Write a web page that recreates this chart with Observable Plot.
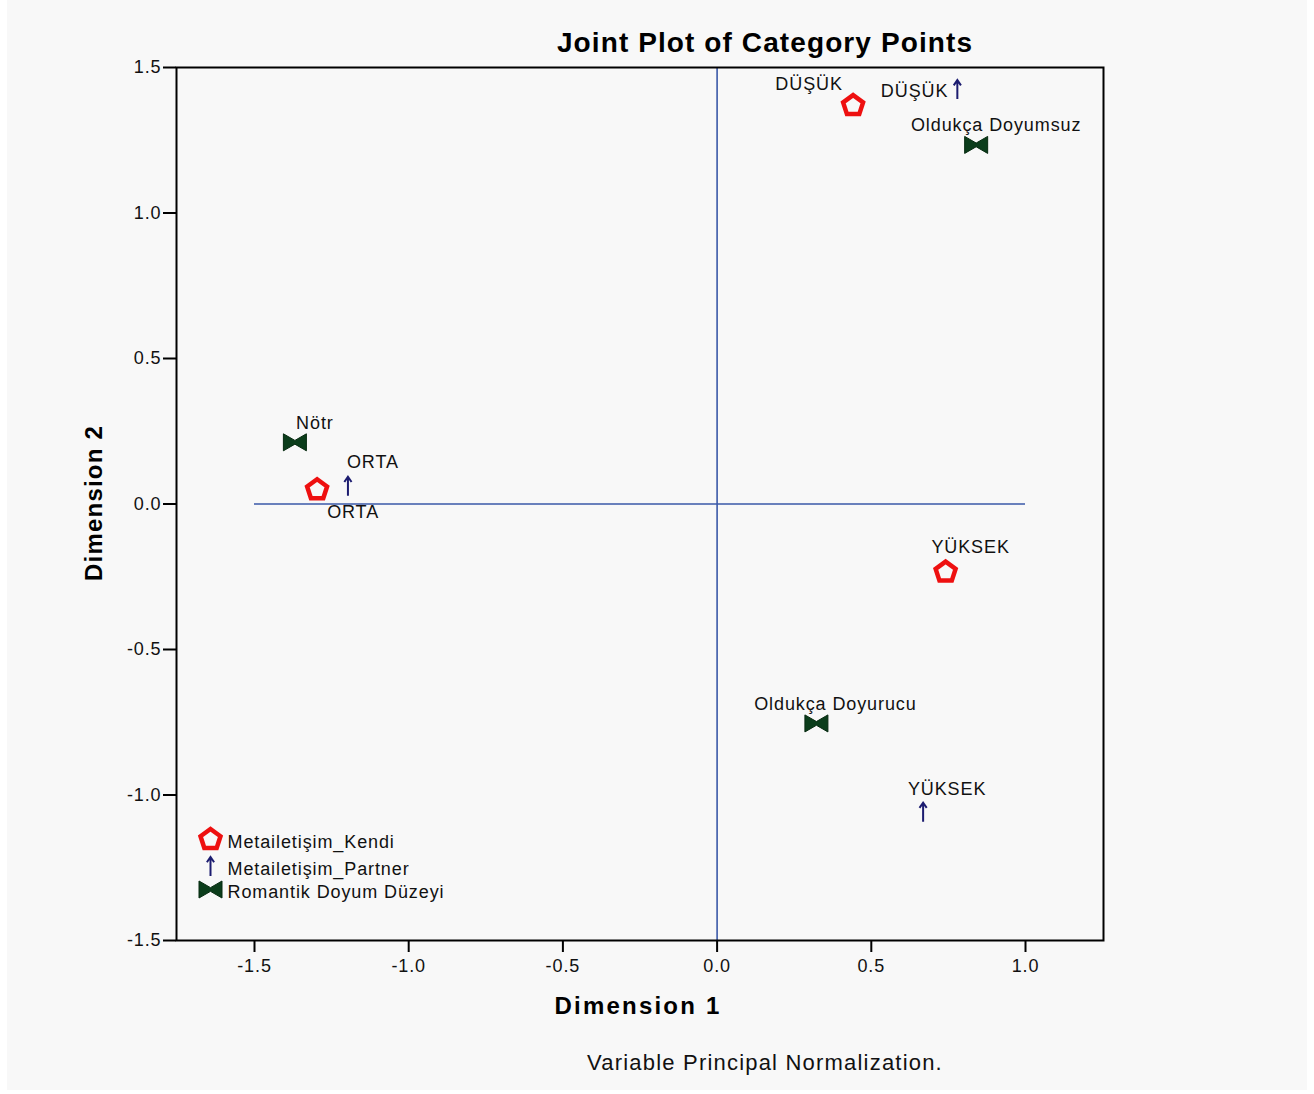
<!DOCTYPE html>
<html>
<head>
<meta charset="utf-8">
<script src="https://cdn.jsdelivr.net/npm/d3@7"></script>
<script src="https://cdn.jsdelivr.net/npm/@observablehq/plot@0.6"></script>
<style>
  html, body { margin: 0; padding: 0; background: #ffffff; }
  #wrap { position: relative; width: 1314px; height: 1094px; overflow: hidden; font-family: "Liberation Sans", Arial, sans-serif; }
  #panel { position: absolute; left: 7px; top: 0; width: 1300px; height: 1090px; background: #f8f8f8; }
  #chart { position: absolute; left: 0; top: 0; }
  #title { position: absolute; left: 465px; width: 600px; top: 27px; text-align: center; font-weight: bold; font-size: 28px; letter-spacing: 1.1px; color: #000; }
  #caption { position: absolute; left: 465px; width: 600px; top: 1050px; text-align: center; font-size: 22px; letter-spacing: 1.2px; color: #111; }
  #ylabel { position: absolute; left: 94px; top: 503px; transform: translate(-50%, -50%) rotate(-90deg); white-space: nowrap; font-weight: bold; font-size: 24px; letter-spacing: 1.2px; color: #000; }
  #xlabel { position: absolute; left: 438px; width: 400px; top: 992px; line-height: 28px; text-align: center; font-weight: bold; font-size: 24px; letter-spacing: 2.2px; color: #000; }
</style>
</head>
<body>
<div id="wrap">
  <div id="panel"></div>
  <div id="chart"></div>
  <div id="title">Joint Plot of Category Points</div>
  <div id="ylabel"></div>
  <div id="xlabel"></div>
  <div id="caption">Variable Principal Normalization.</div>
</div>
<script>
// ---- data ----
const variables = ["Metailetişim_Kendi", "Metailetişim_Partner", "Romantik Doyum Düzeyi"];

const kendiCategories = ["DÜŞÜK", "ORTA", "YÜKSEK"];
const kendiDim1 = [0.441, -1.297, 0.741];
const kendiDim2 = [1.369, 0.049, -0.234];

const partnerCategories = ["DÜŞÜK", "ORTA", "YÜKSEK"];
const partnerDim1 = [0.779, -1.197, 0.668];
const partnerDim2 = [1.424, 0.061, -1.059];

const romantikCategories = ["Oldukça Doyumsuz", "Nötr", "Oldukça Doyurucu"];
const romantikDim1 = [0.840, -1.369, 0.322];
const romantikDim2 = [1.234, 0.212, -0.754];

const xTicks = [-1.5, -1.0, -0.5, 0.0, 0.5, 1.0];
const yTicks = [-1.5, -1.0, -0.5, 0.0, 0.5, 1.0, 1.5];

const xLabel = "Dimension 1";
const yLabel = "Dimension 2";
document.getElementById("ylabel").textContent = yLabel;
document.getElementById("xlabel").textContent = xLabel;

// ---- label placement (layout only) ----
const labelPlacement = {
  "Metailetişim_Kendi|DÜŞÜK":  {dx: -44, dy: -21, anchor: "middle"},
  "Metailetişim_Kendi|ORTA":   {dx: 36, dy: 22, anchor: "middle"},
  "Metailetişim_Kendi|YÜKSEK": {dx: 25, dy: -25, anchor: "middle"},
  "Metailetişim_Partner|DÜŞÜK":  {dx: -9, dy: 2, anchor: "end"},
  "Metailetişim_Partner|ORTA":   {dx: 25, dy: -24, anchor: "middle"},
  "Metailetişim_Partner|YÜKSEK": {dx: 24, dy: -23, anchor: "middle"},
  "Romantik Doyum Düzeyi|Oldukça Doyumsuz": {dx: 20, dy: -20, anchor: "middle"},
  "Romantik Doyum Düzeyi|Nötr":             {dx: 20, dy: -19, anchor: "middle"},
  "Romantik Doyum Düzeyi|Oldukça Doyurucu": {dx: 19, dy: -19, anchor: "middle"}
};

// ---- build table ----
function rows(variable, cats, d1, d2) {
  return cats.map((c, i) => ({variable, category: c, dim1: d1[i], dim2: d2[i]}));
}
const kendi = rows(variables[0], kendiCategories, kendiDim1, kendiDim2);
const partner = rows(variables[1], partnerCategories, partnerDim1, partnerDim2);
const romantik = rows(variables[2], romantikCategories, romantikDim1, romantikDim2);
const allPoints = [...kendi, ...partner, ...romantik];

// ---- custom symbols ----
const pentagon = {
  draw(ctx, size) {
    const r = Math.sqrt(size / Math.PI);
    for (let i = 0; i < 5; i++) {
      const a = -Math.PI / 2 + i * 2 * Math.PI / 5;
      const px = r * Math.cos(a), py = r * Math.sin(a);
      if (i === 0) ctx.moveTo(px, py); else ctx.lineTo(px, py);
    }
    ctx.closePath();
  }
};
const arrowUp = {
  draw(ctx, size) {
    const r = Math.sqrt(size / Math.PI);
    ctx.moveTo(0, r);
    ctx.lineTo(0, -r);
    ctx.moveTo(-r * 0.38, -r * 0.45);
    ctx.lineTo(0, -r);
    ctx.lineTo(r * 0.38, -r * 0.45);
  }
};
const bowtie = {
  draw(ctx, size) {
    const r = Math.sqrt(size / Math.PI);
    const w = r, h = r * 0.74, k = h * 0.22;
    ctx.moveTo(-w, -h);
    ctx.lineTo(0, -k);
    ctx.lineTo(w, -h);
    ctx.lineTo(w, h);
    ctx.lineTo(0, k);
    ctx.lineTo(-w, h);
    ctx.closePath();
  }
};

const RED = "#ee1010", NAVY = "#1c1c70", GREEN = "#0b3d1b", BLUE = "#3a58a8";
const labelFont = {fontSize: 18, fill: "#111"};

const pentagonStyle = {symbol: pentagon, r: 10.5, stroke: RED, strokeWidth: 4.5, fill: "none"};
const arrowStyle = {symbol: arrowUp, r: 9.5, stroke: NAVY, strokeWidth: 2, fill: "none"};
const bowtieStyle = {symbol: bowtie, r: 11.5, fill: GREEN, stroke: "#062a10", strokeWidth: 1};

const labelMarks = allPoints.map(p => {
  const pl = labelPlacement[p.variable + "|" + p.category];
  return Plot.text([p], {x: "dim1", y: "dim2", text: "category", dx: pl.dx, dy: pl.dy, textAnchor: pl.anchor, ...labelFont});
});

const legendStyles = [pentagonStyle, arrowStyle, bowtieStyle];
const legendDy = [-101, -74, -51];
const legendMarks = variables.flatMap((v, i) => [
  Plot.dot([v], {frameAnchor: "bottom-left", dx: 34, dy: legendDy[i], ...legendStyles[i]}),
  Plot.text([v], {frameAnchor: "bottom-left", dx: 51, dy: legendDy[i] + 8, text: d => d, textAnchor: "start", ...labelFont})
]);

const fmt = d => d.toFixed(1);

const chart = Plot.plot({
  width: 1314,
  height: 1094,
  marginLeft: 176,
  marginRight: 211,
  marginTop: 67,
  marginBottom: 154,
  style: {background: "transparent", fontFamily: "'Liberation Sans', Arial, sans-serif", fontSize: "18px", letterSpacing: "0.9px", color: "#111"},
  x: {domain: [-1.7529, 1.2529], label: null},
  y: {domain: [-1.5, 1.5], label: null},
  marks: [
    Plot.ruleX([0], {y1: yTicks[0], y2: yTicks[yTicks.length - 1], stroke: BLUE, strokeWidth: 1.6}),
    Plot.ruleY([0], {x1: xTicks[0], x2: xTicks[xTicks.length - 1], stroke: BLUE, strokeWidth: 1.6}),
    Plot.frame({stroke: "#000", strokeWidth: 2}),
    Plot.axisX({ticks: xTicks, tickFormat: fmt, tickSize: 12, tickPadding: 7, strokeWidth: 2, stroke: "#000", fontSize: 18, label: null}),
    Plot.axisY({ticks: yTicks, tickFormat: fmt, tickSize: 13, tickPadding: 2, strokeWidth: 2, stroke: "#000", fontSize: 18, label: null}),
    Plot.dot(kendi, {x: "dim1", y: "dim2", ...pentagonStyle}),
    Plot.dot(partner, {x: "dim1", y: "dim2", ...arrowStyle}),
    Plot.dot(romantik, {x: "dim1", y: "dim2", ...bowtieStyle}),
    ...labelMarks,
    ...legendMarks
  ]
});
document.getElementById("chart").appendChild(chart);
</script>
</body>
</html>
